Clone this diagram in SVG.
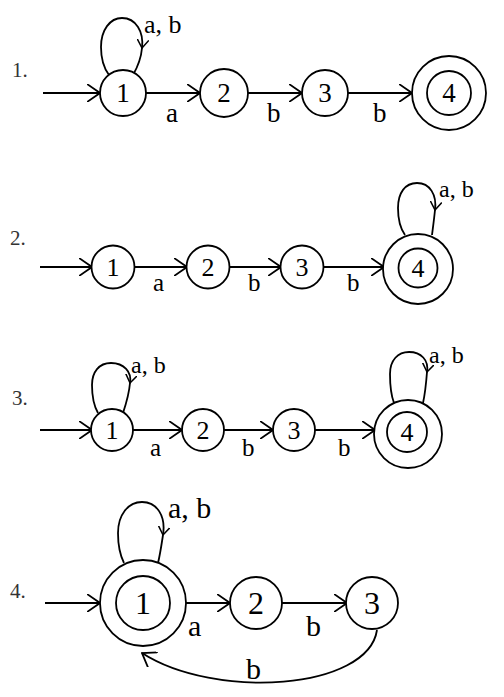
<svg xmlns="http://www.w3.org/2000/svg" width="504" height="697" viewBox="0 0 504 697">
<defs>
<marker id="arr" viewBox="0 0 14 18" refX="13" refY="9" markerWidth="14" markerHeight="18" markerUnits="userSpaceOnUse" orient="auto">
<path d="M0,0 L13,9 L0,18" fill="none" stroke="#000" stroke-width="1.8"/>
</marker>
<marker id="arrs" viewBox="0 0 14 18" refX="13" refY="9" markerWidth="9" markerHeight="12" markerUnits="userSpaceOnUse" orient="auto">
<path d="M0,0 L13,9 L0,18" fill="none" stroke="#000" stroke-width="2.4"/>
</marker>
</defs>
<style>
.s{fill:#fff;stroke:#000;stroke-width:1.8}
.e{fill:none;stroke:#000;stroke-width:1.8}
.ea{fill:none;stroke:#000;stroke-width:1.8;marker-end:url(#arr)}
.el{fill:none;stroke:#000;stroke-width:1.8;marker-end:url(#arrs)}
.d{font-family:"Liberation Serif","Times New Roman",serif;text-anchor:middle;fill:#000}
.l{font-family:"Liberation Serif","Times New Roman",serif;fill:#000}
.n{font-family:"Liberation Serif","Times New Roman",serif;fill:#333}
</style>
<rect width="504" height="697" fill="#fff"/>

<g id="labels">
<text class="n" x="12" y="77" font-size="21">1.</text>
<text class="n" x="10" y="245" font-size="21">2.</text>
<text class="n" x="12" y="405" font-size="21">3.</text>
<text class="n" x="10" y="598" font-size="21">4.</text>
</g>

<g id="connectors">
<!-- diagram 1 -->
<line class="ea" x1="43" y1="93" x2="100" y2="93"/>
<line class="ea" x1="146" y1="93" x2="200" y2="93"/>
<line class="ea" x1="248" y1="93" x2="302" y2="93"/>
<line class="ea" x1="348" y1="93" x2="412" y2="93"/>
<path class="el" d="M109,75 C103,67 101,58 101,47 C101,30 110,18 122,18 C136,18 144,32 142,48"/>
<path class="e" d="M142,48 C141,60 137,68 133,75"/>
<text class="l" x="166" y="122" font-size="27">a</text>
<text class="l" x="267" y="122" font-size="27">b</text>
<text class="l" x="373" y="122" font-size="27">b</text>
<text class="l" x="144" y="33" font-size="26">a, b</text>
<!-- diagram 2 -->
<line class="ea" x1="40" y1="267" x2="92" y2="267"/>
<line class="ea" x1="134" y1="267" x2="187" y2="267"/>
<line class="ea" x1="229" y1="267" x2="281" y2="267"/>
<line class="ea" x1="323" y1="267" x2="384" y2="267"/>
<path class="el" d="M405,235 C400,228 398,219 398,208 C398,193 405,183 417,183 C430,183 437,195 435,210"/>
<path class="e" d="M435,210 C434,220 433,227 432,235"/>
<text class="l" x="153" y="291" font-size="25">a</text>
<text class="l" x="248" y="291" font-size="25">b</text>
<text class="l" x="347" y="291" font-size="25">b</text>
<text class="l" x="439" y="197" font-size="24">a, b</text>
<!-- diagram 3 -->
<line class="ea" x1="40" y1="430" x2="92" y2="430"/>
<line class="ea" x1="133" y1="430" x2="182" y2="430"/>
<line class="ea" x1="224" y1="430" x2="273" y2="430"/>
<line class="ea" x1="315" y1="430" x2="375" y2="430"/>
<path class="el" d="M98,413 C94,406 92,396 92,385 C92,372 99,363 111,363 C124,363 132,372 130,383"/>
<path class="e" d="M130,383 C129,395 126,404 123,413"/>
<path class="el" d="M394,403 C391,395 390,385 390,374 C390,360 398,352 409,352 C421,352 429,360 427,372"/>
<path class="e" d="M427,372 C426,385 425,394 423,403"/>
<text class="l" x="150" y="456" font-size="25">a</text>
<text class="l" x="242" y="456" font-size="25">b</text>
<text class="l" x="338" y="456" font-size="25">b</text>
<text class="l" x="131" y="373" font-size="24">a, b</text>
<text class="l" x="429" y="363" font-size="24">a, b</text>
<!-- diagram 4 -->
<line class="ea" x1="45" y1="603" x2="100" y2="603"/>
<line class="ea" x1="186" y1="603" x2="230" y2="603"/>
<line class="ea" x1="282" y1="603" x2="347" y2="603"/>
<path class="el" d="M124,563 C120,555 118,545 118,533 C118,515 128,502 142,502 C157,502 166,516 163,535"/>
<path class="e" d="M163,535 C161,548 160,555 158,563"/>
<path class="ea" d="M377,630 C368,690 215,700 142,653"/>
<text class="l" x="188" y="636" font-size="30">a</text>
<text class="l" x="306" y="636" font-size="30">b</text>
<text class="l" x="246" y="679" font-size="30">b</text>
<text class="l" x="168" y="518" font-size="30">a, b</text>
</g>

<g id="d1-s1"><circle class="s" cx="123" cy="93" r="23"/><text class="d" x="123" y="102" font-size="27">1</text></g>
<g id="d1-s2"><circle class="s" cx="224" cy="93" r="24"/><text class="d" x="224" y="102" font-size="27">2</text></g>
<g id="d1-s3"><circle class="s" cx="325" cy="93" r="23"/><text class="d" x="325" y="102" font-size="27">3</text></g>
<g id="d1-s4"><circle class="s" cx="449" cy="93" r="37"/><circle class="s" cx="449" cy="93" r="22"/><text class="d" x="449" y="102" font-size="27">4</text></g>

<g id="d2-s1"><circle class="s" cx="113" cy="267" r="21.5"/><text class="d" x="113" y="276" font-size="26">1</text></g>
<g id="d2-s2"><circle class="s" cx="208" cy="267" r="21.5"/><text class="d" x="208" y="276" font-size="26">2</text></g>
<g id="d2-s3"><circle class="s" cx="302" cy="267" r="21.5"/><text class="d" x="302" y="276" font-size="26">3</text></g>
<g id="d2-s4"><circle class="s" cx="418" cy="269" r="35"/><circle class="s" cx="418" cy="268" r="19.5"/><text class="d" x="418" y="277" font-size="26">4</text></g>

<g id="d3-s1"><circle class="s" cx="112" cy="430" r="21"/><text class="d" x="112" y="439" font-size="26">1</text></g>
<g id="d3-s2"><circle class="s" cx="203" cy="430" r="21"/><text class="d" x="203" y="439" font-size="26">2</text></g>
<g id="d3-s3"><circle class="s" cx="294" cy="430" r="21"/><text class="d" x="294" y="439" font-size="26">3</text></g>
<g id="d3-s4"><circle class="s" cx="408" cy="434" r="34"/><circle class="s" cx="407" cy="432" r="20"/><text class="d" x="407" y="441" font-size="26">4</text></g>

<g id="d4-s1"><circle class="s" cx="143" cy="603" r="43"/><circle class="s" cx="143" cy="603" r="27"/><text class="d" x="143" y="614" font-size="32">1</text></g>
<g id="d4-s2"><circle class="s" cx="256" cy="603" r="26"/><text class="d" x="256" y="614" font-size="32">2</text></g>
<g id="d4-s3"><circle class="s" cx="372" cy="603" r="26"/><text class="d" x="372" y="614" font-size="32">3</text></g>
</svg>
